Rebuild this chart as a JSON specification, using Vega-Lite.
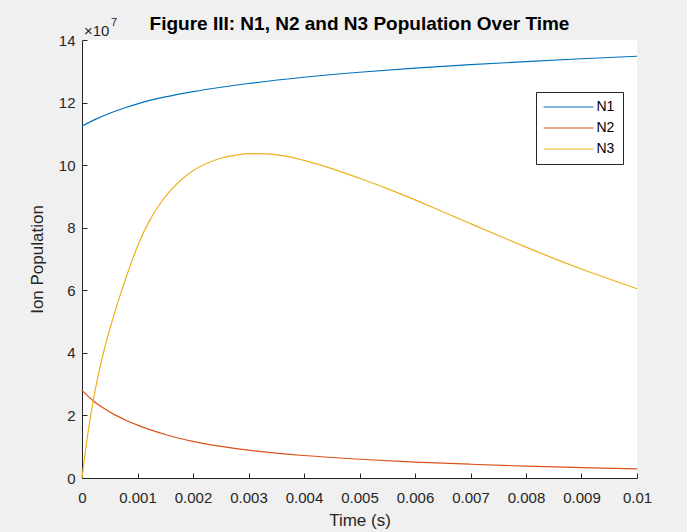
{
  "$schema": "https://vega.github.io/schema/vega-lite/v6.json",
  "width": 555,
  "height": 438,
  "autosize": {"type": "none"},
  "padding": {"left": 82, "top": 40, "right": 50, "bottom": 54},
  "background": "#f0f0f0",
  "config": {
    "view": {"fill": "white", "stroke": null},
    "font": "Liberation Sans",
    "axis": {
      "domainColor": "#262626",
      "tickColor": "#262626",
      "labelColor": "#262626",
      "titleColor": "#262626",
      "grid": false,
      "tickSize": -5,
      "labelFontSize": 15,
      "titleFontSize": 17,
      "titleFontWeight": "normal",
      "labelFont": "Liberation Sans",
      "titleFont": "Liberation Sans",
      "labelFlush": false,
      "labelOverlap": false,
      "labelBound": false
    },
    "legend": {
      "orient": "none",
      "legendX": 454,
      "legendY": 52,
      "strokeColor": "#262626",
      "fillColor": "white",
      "padding": 8,
      "symbolType": "M-5,0H5",
      "symbolSize": 100,
      "symbolStrokeWidth": 1.2,
      "symbolOffset": 17.5,
      "labelFontSize": 14,
      "labelColor": "#000000",
      "labelFont": "Liberation Sans",
      "rowPadding": 7,
      "labelOffset": 21,
      "titlePadding": 0
    }
  },
  "title": {
    "text": "Figure III: N1, N2 and N3 Population Over Time",
    "fontSize": 19,
    "fontWeight": "bold",
    "color": "#000000",
    "font": "Liberation Sans",
    "frame": "group",
    "offset": -17
  },
  "datasets": {
    "pop": [
      {"t": 0, "series": "N1", "v": 112500000},
      {"t": 0.00025, "series": "N1", "v": 114700000},
      {"t": 0.0005, "series": "N1", "v": 116600000},
      {"t": 0.00075, "series": "N1", "v": 118200000},
      {"t": 0.001, "series": "N1", "v": 119600000},
      {"t": 0.0015, "series": "N1", "v": 121800000},
      {"t": 0.002, "series": "N1", "v": 123500000},
      {"t": 0.0025, "series": "N1", "v": 124900000},
      {"t": 0.003, "series": "N1", "v": 126100000},
      {"t": 0.004, "series": "N1", "v": 128100000},
      {"t": 0.005, "series": "N1", "v": 129700000},
      {"t": 0.006, "series": "N1", "v": 131000000},
      {"t": 0.007, "series": "N1", "v": 132100000},
      {"t": 0.008, "series": "N1", "v": 133100000},
      {"t": 0.009, "series": "N1", "v": 134000000},
      {"t": 0.01, "series": "N1", "v": 134800000},
      {"t": 0, "series": "N2", "v": 28000000},
      {"t": 0.0002, "series": "N2", "v": 24700000},
      {"t": 0.0004, "series": "N2", "v": 22200000},
      {"t": 0.0006, "series": "N2", "v": 20100000},
      {"t": 0.0008, "series": "N2", "v": 18400000},
      {"t": 0.001, "series": "N2", "v": 16900000},
      {"t": 0.0015, "series": "N2", "v": 13900000},
      {"t": 0.002, "series": "N2", "v": 11700000},
      {"t": 0.0025, "series": "N2", "v": 10100000},
      {"t": 0.003, "series": "N2", "v": 8900000},
      {"t": 0.004, "series": "N2", "v": 7200000},
      {"t": 0.005, "series": "N2", "v": 6000000},
      {"t": 0.006, "series": "N2", "v": 5100000},
      {"t": 0.007, "series": "N2", "v": 4400000},
      {"t": 0.008, "series": "N2", "v": 3800000},
      {"t": 0.009, "series": "N2", "v": 3300000},
      {"t": 0.01, "series": "N2", "v": 2900000},
      {"t": 0, "series": "N3", "v": 0},
      {"t": 0.0001, "series": "N3", "v": 13500000},
      {"t": 0.0002, "series": "N3", "v": 24500000},
      {"t": 0.0003, "series": "N3", "v": 33500000},
      {"t": 0.0004, "series": "N3", "v": 41000000},
      {"t": 0.0005, "series": "N3", "v": 47500000},
      {"t": 0.0006, "series": "N3", "v": 53500000},
      {"t": 0.0007, "series": "N3", "v": 59100000},
      {"t": 0.0008, "series": "N3", "v": 64400000},
      {"t": 0.0009, "series": "N3", "v": 69400000},
      {"t": 0.001, "series": "N3", "v": 74100000},
      {"t": 0.0012, "series": "N3", "v": 81700000},
      {"t": 0.0014, "series": "N3", "v": 87500000},
      {"t": 0.0016, "series": "N3", "v": 92000000},
      {"t": 0.0018, "series": "N3", "v": 95500000},
      {"t": 0.002, "series": "N3", "v": 98200000},
      {"t": 0.0025, "series": "N3", "v": 102200000},
      {"t": 0.0028, "series": "N3", "v": 103300000},
      {"t": 0.003, "series": "N3", "v": 103650000},
      {"t": 0.0032, "series": "N3", "v": 103700000},
      {"t": 0.0034, "series": "N3", "v": 103550000},
      {"t": 0.0037, "series": "N3", "v": 102800000},
      {"t": 0.004, "series": "N3", "v": 101500000},
      {"t": 0.0045, "series": "N3", "v": 98900000},
      {"t": 0.005, "series": "N3", "v": 95800000},
      {"t": 0.0055, "series": "N3", "v": 92500000},
      {"t": 0.006, "series": "N3", "v": 88900000},
      {"t": 0.0065, "series": "N3", "v": 85100000},
      {"t": 0.007, "series": "N3", "v": 81300000},
      {"t": 0.0075, "series": "N3", "v": 77500000},
      {"t": 0.008, "series": "N3", "v": 73800000},
      {"t": 0.0085, "series": "N3", "v": 70200000},
      {"t": 0.009, "series": "N3", "v": 66800000},
      {"t": 0.0095, "series": "N3", "v": 63600000},
      {"t": 0.01, "series": "N3", "v": 60500000}
    ]
  },
  "layer": [
    {
      "data": {"name": "pop"},
      "mark": {"type": "line", "strokeWidth": 1.2, "interpolate": "monotone"},
      "encoding": {
        "x": {
          "field": "t",
          "type": "quantitative",
          "scale": {"domain": [0, 0.01], "nice": false, "zero": false},
          "axis": {
            "title": "Time (s)",
            "values": [0, 0.001, 0.002, 0.003, 0.004, 0.005, 0.006, 0.007, 0.008, 0.009, 0.01],
            "labelExpr": "format(datum.value, '~g')",
            "labelPadding": 17,
            "titlePadding": 7
          }
        },
        "y": {
          "field": "v",
          "type": "quantitative",
          "scale": {"domain": [0, 140000000], "nice": false},
          "axis": {
            "title": "Ion Population",
            "values": [0, 20000000, 40000000, 60000000, 80000000, 100000000, 120000000, 140000000],
            "labelExpr": "format(datum.value / 10000000, 'd')",
            "labelPadding": 12,
            "titlePadding": 12
          }
        },
        "color": {
          "field": "series",
          "type": "nominal",
          "scale": {"domain": ["N1", "N2", "N3"], "range": ["#0072BD", "#D95319", "#EDB120"]},
          "legend": {"title": null}
        }
      }
    },
    {
      "data": {"values": [{"label": "×10"}]},
      "mark": {"type": "text", "align": "left", "baseline": "alphabetic", "dx": 2, "dy": -4, "fontSize": 15, "color": "#262626", "font": "Liberation Sans"},
      "encoding": {
        "x": {"datum": 0, "type": "quantitative"},
        "y": {"datum": 140000000, "type": "quantitative"},
        "text": {"field": "label"}
      }
    },
    {
      "data": {"values": [{"label": "7"}]},
      "mark": {"type": "text", "align": "left", "baseline": "alphabetic", "dx": 29, "dy": -14, "fontSize": 11, "color": "#262626", "font": "Liberation Sans"},
      "encoding": {
        "x": {"datum": 0, "type": "quantitative"},
        "y": {"datum": 140000000, "type": "quantitative"},
        "text": {"field": "label"}
      }
    }
  ]
}
